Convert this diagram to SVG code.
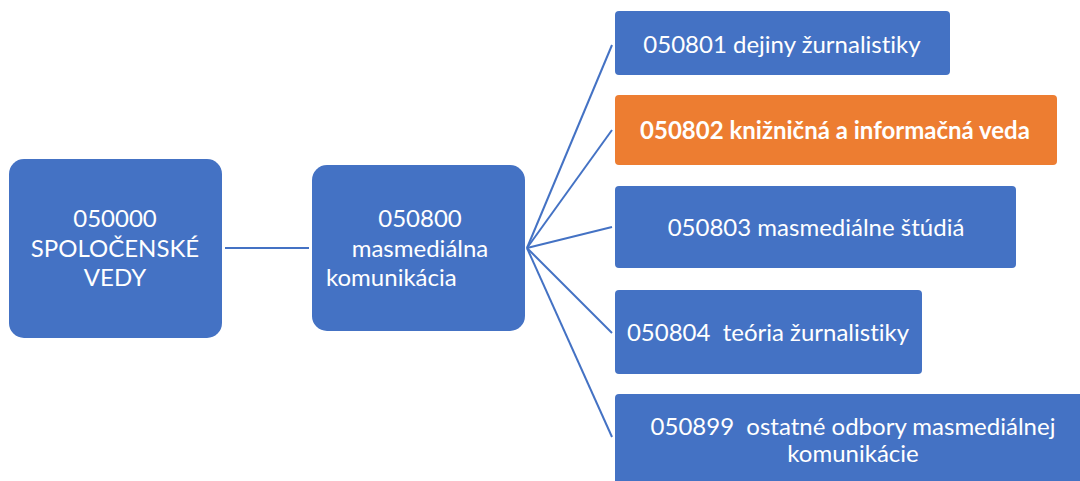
<svg xmlns="http://www.w3.org/2000/svg" width="1080" height="481" viewBox="0 0 1080 481">
<style>
.b{fill:#4472C4}
.o{fill:#ED7D31}
.t{font-family:Lato,"Liberation Sans",sans-serif;font-size:24px;fill:#fff;text-anchor:middle;font-variant-ligatures:none}
.bold{font-weight:bold}
.c{stroke:#4472C4;stroke-width:2;fill:none}
</style>
<rect width="1080" height="481" fill="#fff"/>
<g id="connectors">
<line class="c" x1="225" y1="248" x2="309" y2="248"/>
<line class="c" x1="527" y1="248" x2="612" y2="45"/>
<line class="c" x1="527" y1="248" x2="612" y2="130"/>
<line class="c" x1="527" y1="248" x2="612" y2="227"/>
<line class="c" x1="527" y1="248" x2="612" y2="333"/>
<line class="c" x1="527" y1="248" x2="612" y2="437"/>
</g>
<g id="n050000">
<rect class="b" x="9" y="159" width="213" height="179" rx="15"/>
<text class="t" x="115" y="227">050000</text>
<text class="t" x="115" y="257">SPOLOČENSKÉ</text>
<text class="t" x="115" y="286">VEDY</text>
</g>
<g id="n050800">
<rect class="b" x="312" y="165" width="213" height="166" rx="15"/>
<text class="t" x="420" y="227">050800</text>
<text class="t" x="420" y="257">masmediálna</text>
<text class="t" x="326" y="286" style="text-anchor:start">komunikácia</text>
</g>
<g id="n050801">
<rect class="b" x="615" y="11" width="335" height="64" rx="4"/>
<text class="t" x="782" y="53">050801 dejiny žurnalistiky</text>
</g>
<g id="n050802">
<rect class="o" x="615" y="95" width="442" height="70" rx="4"/>
<text class="t bold" x="835" y="139">050802 knižničná a informačná veda</text>
</g>
<g id="n050803">
<rect class="b" x="615" y="186" width="401" height="82" rx="4"/>
<text class="t" x="816" y="236">050803 masmediálne štúdiá</text>
</g>
<g id="n050804">
<rect class="b" x="615" y="290" width="307" height="84" rx="4"/>
<text class="t" x="768" y="341" xml:space="preserve">050804  teória žurnalistiky</text>
</g>
<g id="n050899">
<rect class="b" x="615" y="394" width="470" height="95" rx="4"/>
<text class="t" x="853" y="435" xml:space="preserve">050899  ostatné odbory masmediálnej</text>
<text class="t" x="853" y="462">komunikácie</text>
</g>
</svg>
